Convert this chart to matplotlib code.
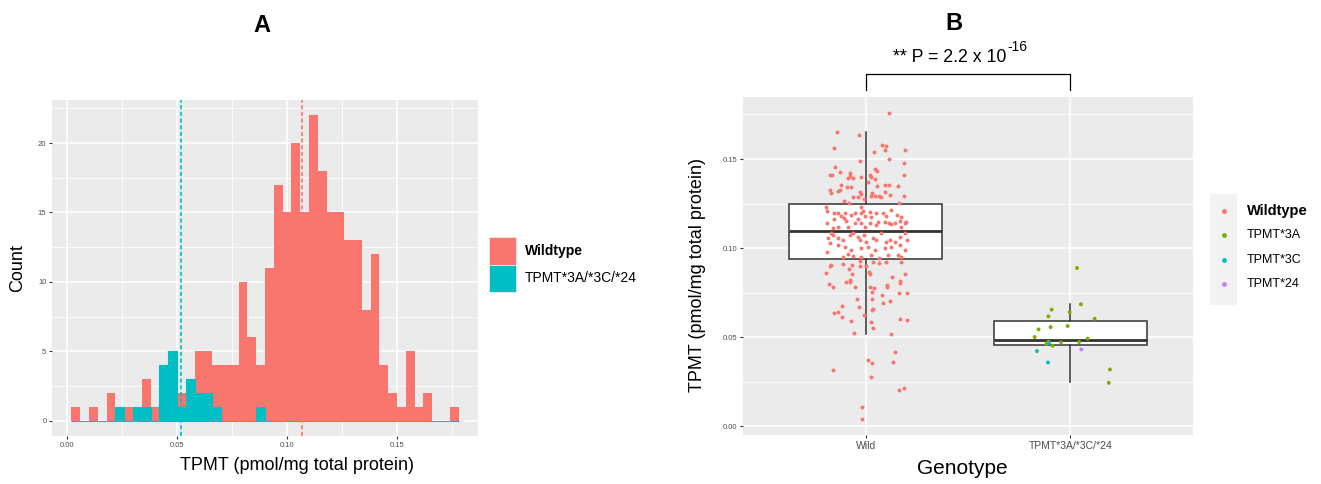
import numpy as np
import matplotlib.pyplot as plt
from matplotlib.patches import Rectangle
from matplotlib.lines import Line2D

plt.rcParams['font.family'] = ['Liberation Sans', 'DejaVu Sans']

RED = '#F8766D'
CYAN = '#00BFC4'
GREEN = '#7CAE00'
PURPLE = '#C77CFF'
PANEL = '#EBEBEB'
TICKCOL = '#4D4D4D'
LINECOL = '#333333'

# ---- panel A: histogram of TPMT activity ----
bin_start = 0.0018
bin_width = 0.004
wild_counts = [1, 0, 1, 0, 2, 0, 1, 0, 2, 1,
               0, 0, 1, 0, 3, 3, 3, 4, 4, 10,
               6, 3, 11, 17, 15, 20, 15, 22, 18, 15,
               15, 13, 13, 8, 12, 4, 2, 1, 5, 1,
               2, 0, 0, 1]
mut_counts = [0, 0, 0, 0, 0, 1, 0, 1, 1, 0,
              4, 5, 1, 3, 2, 2, 1, 0, 0, 0,
              0, 1, 0, 0, 0, 0, 0, 0, 0, 0,
              0, 0, 0, 0, 0, 0, 0, 0, 0, 0,
              0, 0, 0, 0]
wild_mean = 0.1065
mut_mean = 0.0514
hist_groups = ['Wildtype', 'TPMT*3A/*3C/*24']

# ---- panel B: TPMT by genotype ----
genotypes = ['Wild', 'TPMT*3A/*3C/*24']
wild_box = dict(q1=0.0940, med=0.1097, q3=0.1249, whislo=0.0515, whishi=0.1653)
mut_box = dict(q1=0.0453, med=0.0481, q3=0.0592, whislo=0.0245, whishi=0.0684)

wild_dx = [0.112, -0.142, -0.033, -0.157, 0.080, 0.098, 0.041, 0.096, 0.191, -0.028,
           0.112, 0.186, -0.148, -0.127, 0.047, 0.057, -0.173, -0.165, -0.075, -0.078,
           -0.087, -0.064, -0.021, 0.019, 0.028, 0.047, 0.187,
           -0.122, 0.011, 0.057, 0.093, 0.112, 0.158, -0.176, -0.168, -0.135, -0.127,
           -0.090, -0.073, -0.030, -0.021, -0.062, -0.106, -0.083, -0.038, 0.031, 0.024,
           0.044, 0.063, 0.076, 0.117, 0.187, 0.093, 0.161, -0.008,
           -0.192, -0.188, -0.155, -0.135, -0.188, -0.155, -0.106, -0.095, -0.070, -0.021,
           -0.013, -0.021, -0.005, 0.019, 0.028, 0.052, 0.085, 0.101, 0.125, 0.155,
           0.174, 0.142, 0.093, 0.060, 0.019, -0.021, -0.038, -0.054, -0.135, -0.160,
           0.166, 0.191, 0.199, 0.112, 0.122, 0.174, 0.052, -0.087, -0.005, -0.054,
           -0.100, -0.119,
           -0.171, -0.160, -0.184, -0.176, -0.188, -0.135, -0.111, -0.078, -0.062, -0.038,
           -0.030, -0.008, 0.003, 0.036, 0.052, 0.076, 0.101, 0.117, 0.142, 0.166,
           0.194, 0.204, -0.135, -0.103, -0.070, -0.021, 0.011, 0.044, 0.093, 0.125,
           0.166, 0.191, -0.111, -0.087, -0.062, -0.021, 0.028, 0.063, 0.109, 0.158,
           0.174,
           -0.176, -0.168, -0.111, -0.067, -0.026, -0.026, 0.003, 0.036, 0.063, 0.101,
           0.171, -0.192, -0.083, -0.067, 0.016, 0.023, 0.194, 0.129, 0.166, 0.169,
           -0.078, -0.075, -0.096, -0.181, -0.158, -0.054, 0.019, 0.041, 0.106, 0.106,
           0.033, 0.163, 0.200, 0.080, -0.043, 0.033, 0.120, 0.083, -0.114, -0.033,
           0.036, 0.033, -0.135, -0.153, -0.114, -0.010, -0.073, 0.166, 0.200, 0.028,
           0.037, -0.059, 0.125,
           0.143, 0.011, 0.031, 0.132, -0.158, 0.026, 0.187, 0.161, -0.020, -0.018]
wild_y = [0.1758, 0.1654, 0.1633, 0.1564, 0.1579, 0.1571, 0.1539, 0.1551, 0.1551, 0.1487,
          0.1502, 0.1476, 0.1457, 0.1429, 0.1444, 0.1431, 0.1410, 0.1410, 0.1420, 0.1405,
          0.1395, 0.1391, 0.1401, 0.1410, 0.1397, 0.1388, 0.1408,
          0.1356, 0.1373, 0.1348, 0.1352, 0.1352, 0.1348, 0.1326, 0.1311, 0.1318, 0.1326,
          0.1341, 0.1341, 0.1316, 0.1303, 0.1285, 0.1266, 0.1255, 0.1288, 0.1307, 0.1292,
          0.1292, 0.1292, 0.1285, 0.1298, 0.1292, 0.1316, 0.1255, 0.1273,
          0.1232, 0.1210, 0.1198, 0.1195, 0.1142, 0.1161, 0.1167, 0.1154, 0.1185, 0.1232,
          0.1210, 0.1195, 0.1180, 0.1204, 0.1176, 0.1198, 0.1195, 0.1180, 0.1213, 0.1185,
          0.1176, 0.1139, 0.1148, 0.1148, 0.1139, 0.1142, 0.1161, 0.1142, 0.1120, 0.1110,
          0.1154, 0.1139, 0.1148, 0.1139, 0.1135, 0.1120, 0.1129, 0.1120, 0.1120, 0.1195,
          0.1198, 0.1180,
          0.1086, 0.1073, 0.1054, 0.1026, 0.0979, 0.1054, 0.1045, 0.1073, 0.1082, 0.1064,
          0.1045, 0.1073, 0.1036, 0.1054, 0.1045, 0.1082, 0.1036, 0.1045, 0.1036, 0.1064,
          0.1082, 0.1045, 0.1017, 0.1007, 0.0989, 0.0998, 0.1007, 0.0989, 0.0998, 0.1007,
          0.1017, 0.0989, 0.0948, 0.0966, 0.0955, 0.0951, 0.0961, 0.0942, 0.0961, 0.0961,
          0.0948,
          0.0899, 0.0905, 0.0911, 0.0905, 0.0926, 0.0899, 0.0899, 0.0924, 0.0918, 0.0924,
          0.0922, 0.0858, 0.0882, 0.0854, 0.0867, 0.0854, 0.0854, 0.0839, 0.0817, 0.0806,
          0.0821, 0.0809, 0.0808, 0.0796, 0.0783, 0.0779, 0.0783, 0.0778, 0.0793, 0.0779,
          0.0753, 0.0746, 0.0746, 0.0734, 0.0716, 0.0712, 0.0701, 0.0693, 0.0675, 0.0669,
          0.0660, 0.0652, 0.0643, 0.0633, 0.0615, 0.0622, 0.0592, 0.0602, 0.0596, 0.0585,
          0.0549, 0.0523, 0.0517,
          0.0414, 0.0374, 0.0352, 0.0359, 0.0315, 0.0277, 0.0215, 0.0200, 0.0105, 0.0039]

mut_dx = [0.052, -0.091, -0.003, -0.107, 0.119, -0.096, -0.013, -0.155, -0.174, 0.085,
          0.043, -0.045, -0.107, -0.117, -0.086, 0.194, 0.188, 0.033,
          -0.104, -0.163, -0.109,
          0.054]
mut_y = [0.0684, 0.0654, 0.0640, 0.0616, 0.0603, 0.0556, 0.0562, 0.0543, 0.0500, 0.0491,
         0.0472, 0.0470, 0.0474, 0.0461, 0.0451, 0.0318, 0.0243, 0.0888,
         0.0466, 0.0421, 0.0357,
         0.0431]
mut_allele = ['TPMT*3A'] * 18 + ['TPMT*3C'] * 3 + ['TPMT*24']

allele_levels = ['Wildtype', 'TPMT*3A', 'TPMT*3C', 'TPMT*24']
allele_colors = {'Wildtype': RED, 'TPMT*3A': GREEN, 'TPMT*3C': CYAN, 'TPMT*24': PURPLE}

W, H = 1321, 484


def fx(px):
    return px / W


def fy(py):
    return 1 - py / H


def gg_style(ax):
    # grey panel with white grid, no frame
    ax.set_facecolor(PANEL)
    for s in ax.spines.values():
        s.set_visible(False)
    ax.set_axisbelow(True)
    ax.grid(which='major', color='white', lw=1.1)
    ax.grid(which='minor', color='white', lw=0.55)
    ax.tick_params(which='major', length=2.5, width=0.8, color=LINECOL,
                   labelsize=5.5, labelcolor=TICKCOL, pad=1.5)
    ax.tick_params(which='minor', length=0)


fig = plt.figure(figsize=(W / 100, H / 100), dpi=100)
fig.patch.set_facecolor('white')

# ---------------- panel A ----------------
axA = fig.add_axes([fx(52), fy(436), fx(478) - fx(52), fy(100) - fy(436)])
gg_style(axA)
lefts = bin_start + bin_width * np.arange(len(wild_counts))
axA.bar(lefts, wild_counts, width=bin_width, bottom=mut_counts, align='edge',
        color=RED, lw=0, zorder=2)
axA.bar(lefts, mut_counts, width=bin_width, align='edge',
        color=CYAN, edgecolor=CYAN, lw=0.8, zorder=3)
axA.axvline(wild_mean, color=RED, ls=(0, (2.5, 1.5)), lw=1.2, zorder=4)
axA.axvline(mut_mean, color=CYAN, ls=(0, (2.5, 1.5)), lw=1.2, zorder=4)

x_lo, x_hi = bin_start, bin_start + bin_width * len(wild_counts)
pad = 0.05 * (x_hi - x_lo)
axA.set_xlim(x_lo - pad, x_hi + pad)
axA.set_ylim(-1.1, 23.1)
axA.set_xticks([0.0, 0.05, 0.10, 0.15])
axA.set_xticklabels(['0.00', '0.05', '0.10', '0.15'])
axA.set_xticks([0.025, 0.075, 0.125, 0.175], minor=True)
axA.set_yticks([0, 5, 10, 15, 20])
axA.set_yticks([2.5, 7.5, 12.5, 17.5, 22.5], minor=True)

fig.text(fx(262), fy(25), 'A', fontsize=17, fontweight='bold', ha='center', va='center')
fig.text(fx(18), fy(268), 'Count', fontsize=13, rotation=90, ha='center', va='center')
fig.text(fx(297), fy(466), 'TPMT (pmol/mg total protein)', fontsize=13,
         ha='center', va='center')

# legend A
for i, (lab, col) in enumerate(zip(hist_groups, [RED, CYAN])):
    top = 237 + i * 27.5
    fig.add_artist(Rectangle((fx(489), fy(top + 27.5)), fx(516) - fx(489), 27.5 / H,
                             transform=fig.transFigure, facecolor=col,
                             edgecolor='#F2F2F2', lw=0.5))
    fig.text(fx(525), fy(top + 14), lab, fontsize=10, ha='left', va='center',
             fontweight='bold' if i == 0 else 'normal')

# ---------------- panel B ----------------
axB = fig.add_axes([fx(743), fy(435), fx(1193) - fx(743), fy(97.4) - fy(435)])
gg_style(axB)
box_kw = dict(widths=0.75, showfliers=False, showcaps=False, patch_artist=True,
              boxprops=dict(facecolor='white', edgecolor=LINECOL, lw=1.1),
              medianprops=dict(color=LINECOL, lw=2.0),
              whiskerprops=dict(color=LINECOL, lw=1.1))
axB.bxp([wild_box, mut_box], positions=[1, 2], **box_kw)

axB.scatter(1 + np.array(wild_dx), wild_y, s=8, color=RED, lw=0, zorder=5)
mut_cols = [allele_colors[a] for a in mut_allele]
axB.scatter(2 + np.array(mut_dx), mut_y, s=8, color=mut_cols, lw=0, zorder=5)

axB.set_xlim(0.4, 2.6)
axB.set_ylim(-0.005, 0.1846)
axB.set_xticks([1, 2])
axB.set_xticklabels(genotypes)
axB.set_yticks([0.0, 0.05, 0.10, 0.15])
axB.set_yticklabels(['0.00', '0.05', '0.10', '0.15'])
axB.set_yticks([0.025, 0.075, 0.125, 0.175], minor=True)
axB.tick_params(axis='x', labelsize=7.5, pad=2)

# significance bracket above the two groups
axB.plot([1, 1, 2, 2], [0.1888, 0.1976, 0.1976, 0.1888], color='black', lw=0.9,
         clip_on=False)
ptxt = axB.text(1.412, 0.2068, '** P = 2.2 x 10', fontsize=12.8, ha='center', va='center')
axB.annotate('-16', xy=(1, 0.72), xycoords=ptxt, xytext=(0.5, 0),
             textcoords='offset points', fontsize=10, ha='left', va='bottom')

fig.text(fx(954), fy(23), 'B', fontsize=17, fontweight='bold', ha='center', va='center')
fig.text(fx(697), fy(275), 'TPMT (pmol/mg total protein)', fontsize=13, rotation=90,
         ha='center', va='center')
fig.text(fx(962), fy(468), 'Genotype', fontsize=15, ha='center', va='center')

# legend B
fig.add_artist(Rectangle((fx(1210), fy(305)), fx(1237) - fx(1210), 111 / H,
                         transform=fig.transFigure, facecolor='#F2F2F2', lw=0))
for i, lab in enumerate(allele_levels):
    yy = 211 + i * 24.4
    fig.add_artist(Line2D([fx(1224)], [fy(yy)], transform=fig.transFigure,
                          marker='o', ms=3.5, mew=0, color=allele_colors[lab], ls='none'))
    fig.text(fx(1247), fy(yy), lab, fontsize=10.5 if i == 0 else 9, ha='left',
             va='center', fontweight='bold' if i == 0 else 'normal')

fig.savefig('out.png', dpi=100)
